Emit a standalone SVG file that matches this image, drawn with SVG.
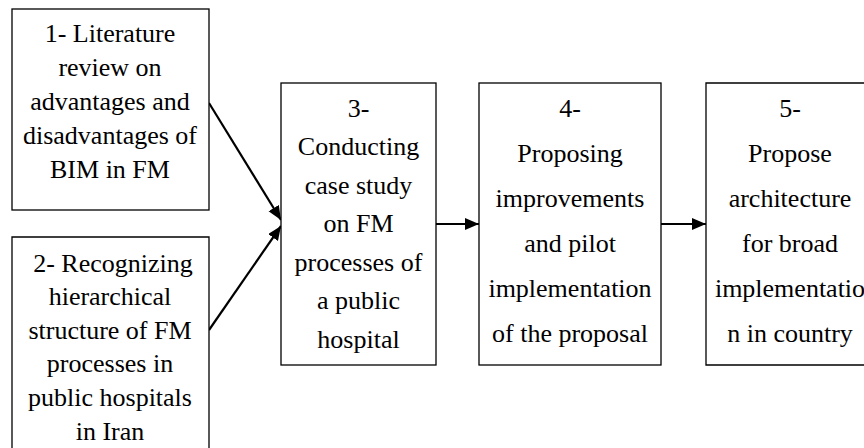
<svg xmlns="http://www.w3.org/2000/svg" width="864" height="448" viewBox="0 0 864 448">
<style>
.box{fill:#fff;stroke:#000;stroke-width:1.3}
.conn{stroke:#000;stroke-width:2.2;fill:none}
</style>
<defs>
<marker id="ah" markerUnits="userSpaceOnUse" markerWidth="16" markerHeight="14" refX="14" refY="6" orient="auto">
<path d="M0,0 L14,6 L0,12 Z" fill="#000"/>
</marker>
</defs>
<rect width="864" height="448" fill="#fff"/>
<g id="connectors">
<line class="conn" x1="209" y1="103" x2="281" y2="220" marker-end="url(#ah)"/>
<line class="conn" x1="209" y1="330" x2="281" y2="226" marker-end="url(#ah)"/>
<line class="conn" x1="436" y1="224" x2="479" y2="224" marker-end="url(#ah)"/>
<line class="conn" x1="661" y1="224" x2="706" y2="224" marker-end="url(#ah)"/>
</g>
<g id="n1">
<rect class="box" x="12" y="9" width="197" height="201"/>
<text x="110" y="42" font-family="Times New Roman" font-size="26" text-anchor="middle">1- Literature</text>
<text x="110" y="76" font-family="Times New Roman" font-size="26" text-anchor="middle">review on</text>
<text x="110" y="110" font-family="Times New Roman" font-size="26" text-anchor="middle">advantages and</text>
<text x="110" y="144" font-family="Times New Roman" font-size="26" text-anchor="middle">disadvantages of</text>
<text x="110" y="178" font-family="Times New Roman" font-size="26" text-anchor="middle">BIM in FM</text>
</g>
<g id="n2">
<path class="box" d="M12,448 L12,237 L209,237 L209,448"/>
<text x="113" y="272" font-family="Times New Roman" font-size="26" text-anchor="middle">2- Recognizing</text>
<text x="110" y="305" font-family="Times New Roman" font-size="26" text-anchor="middle">hierarchical</text>
<text x="110" y="339" font-family="Times New Roman" font-size="26" text-anchor="middle">structure of FM</text>
<text x="110" y="372" font-family="Times New Roman" font-size="26" text-anchor="middle">processes in</text>
<text x="110" y="406" font-family="Times New Roman" font-size="26" text-anchor="middle">public hospitals</text>
<text x="110" y="440" font-family="Times New Roman" font-size="26" text-anchor="middle">in Iran</text>
</g>
<g id="n3">
<rect class="box" x="281" y="83" width="155" height="282"/>
<text x="358.5" y="117" font-family="Times New Roman" font-size="26" text-anchor="middle">3-</text>
<text x="358.5" y="155" font-family="Times New Roman" font-size="26" text-anchor="middle">Conducting</text>
<text x="358.5" y="194" font-family="Times New Roman" font-size="26" text-anchor="middle">case study</text>
<text x="358.5" y="232" font-family="Times New Roman" font-size="26" text-anchor="middle">on FM</text>
<text x="358.5" y="271" font-family="Times New Roman" font-size="26" text-anchor="middle">processes of</text>
<text x="358.5" y="309" font-family="Times New Roman" font-size="26" text-anchor="middle">a public</text>
<text x="358.5" y="348" font-family="Times New Roman" font-size="26" text-anchor="middle">hospital</text>
</g>
<g id="n4">
<rect class="box" x="479" y="83" width="182" height="282"/>
<text x="570" y="117" font-family="Times New Roman" font-size="26" text-anchor="middle">4-</text>
<text x="570" y="162" font-family="Times New Roman" font-size="26" text-anchor="middle">Proposing</text>
<text x="570" y="207" font-family="Times New Roman" font-size="26" text-anchor="middle">improvements</text>
<text x="570" y="252" font-family="Times New Roman" font-size="26" text-anchor="middle">and pilot</text>
<text x="570" y="297" font-family="Times New Roman" font-size="26" text-anchor="middle">implementation</text>
<text x="570" y="342" font-family="Times New Roman" font-size="26" text-anchor="middle">of the proposal</text>
</g>
<g id="n5">
<path class="box" d="M864,83 L706,83 L706,365 L864,365"/>
<text x="790" y="117" font-family="Times New Roman" font-size="26" text-anchor="middle">5-</text>
<text x="790" y="162" font-family="Times New Roman" font-size="26" text-anchor="middle">Propose</text>
<text x="790" y="207" font-family="Times New Roman" font-size="26" text-anchor="middle">architecture</text>
<text x="790" y="252" font-family="Times New Roman" font-size="26" text-anchor="middle">for broad</text>
<text x="790" y="297" font-family="Times New Roman" font-size="26" text-anchor="middle">implementatio</text>
<text x="790" y="342" font-family="Times New Roman" font-size="26" text-anchor="middle">n in country</text>
</g>
</svg>
